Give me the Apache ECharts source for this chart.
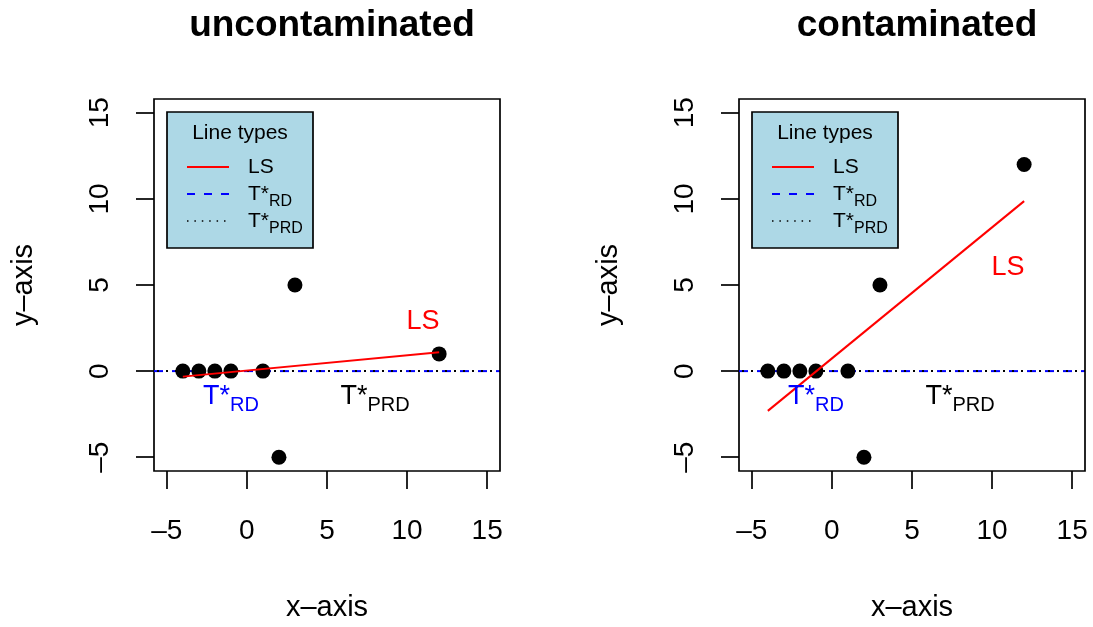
<!DOCTYPE html>
<html><head><meta charset="utf-8">
<script src="https://cdn.jsdelivr.net/npm/echarts@6/dist/echarts.min.js"></script>
<style>html,body{margin:0;padding:0;background:#fff}#c{width:1093px;height:627px}</style>
</head><body><div id="c"></div>
<script>
// ---- data ----
const xs = [-4, -3, -2, -1, 1, 2, 3, 12];
const yClean = [0, 0, 0, 0, 0, -5, 5, 1];
const yDirty = [0, 0, 0, 0, 0, -5, 5, 12];
const lsClean = [[-4, -0.32], [12, 1.1]];
const lsDirty = [[-4, -2.31], [12, 9.87]];
const refLine = [[-5.8, 0], [15.8, 0]];
const tickVals = [-5, 0, 5, 10, 15];
const titles = ['uncontaminated', 'contaminated'];
const lsLabelPos = [[11, 2.9], [11, 6.0]];
const rdLabelPos = [-1, -1.5];
const prdLabelPos = [8, -1.5];
const axisMin = -5.8, axisMax = 15.8;

// ---- layout ----
const FONT = 'Liberation Sans, Arial, Helvetica, sans-serif';
const panels = [{ left: 154, top: 99 }, { left: 739, top: 99 }];
const GW = 346, GH = 373;

function pts(ys) { return xs.map((x, i) => [x, ys[i]]); }

const grids = [], xAxes = [], yAxes = [], series = [], titleArr = [], graphics = [];

panels.forEach((p, k) => {
  grids.push({ left: p.left, top: p.top, width: GW, height: GH, show: true,
    borderColor: '#000', borderWidth: 1.7, backgroundColor: 'transparent' });
  const common = {
    type: 'value', min: axisMin, max: axisMax, gridIndex: k,
    axisLine: { show: false, onZero: false }, splitLine: { show: false },
    axisTick: { show: true, inside: false, length: 18, customValues: tickVals,
      lineStyle: { color: '#000', width: 1.7 } },
    nameLocation: 'middle',
    nameTextStyle: { fontSize: 29, color: '#000', fontFamily: FONT }
  };
  xAxes.push(Object.assign({}, common, {
    position: 'bottom',
    name: 'x\u2013axis', nameGap: 122,
    axisLabel: { customValues: tickVals, fontSize: 28, color: '#000', fontFamily: FONT, margin: 46,
      formatter: v => String(v).replace('-', '\u2013') }
  }));
  yAxes.push(Object.assign({}, common, {
    position: 'left',
    name: 'y\u2013axis', nameGap: 116,
    axisLabel: { customValues: tickVals, fontSize: 28, color: '#000', fontFamily: FONT, margin: 40, rotate: 90,
      formatter: v => String(v).replace('-', '\u2013') }
  }));
  titleArr.push({ text: titles[k], left: p.left + GW / 2, top: 2, textAlign: 'center',
    textStyle: { fontSize: 37, fontWeight: 'bold', color: '#000', fontFamily: FONT } });

  // reference lines (T*RD dashed blue, T*PRD dotted black)
  series.push({ type: 'line', xAxisIndex: k, yAxisIndex: k, data: refLine, symbol: 'none', silent: true,
    lineStyle: { color: '#0000ff', width: 2, type: [9, 9] }, z: 2 });
  series.push({ type: 'line', xAxisIndex: k, yAxisIndex: k, data: refLine, symbol: 'none', silent: true,
    lineStyle: { color: '#000', width: 2, type: [2, 7], dashOffset: -12 }, z: 2 });
  // points
  series.push({ type: 'scatter', xAxisIndex: k, yAxisIndex: k, data: pts(k === 0 ? yClean : yDirty),
    symbol: 'circle', symbolSize: 15, itemStyle: { color: '#000', opacity: 1 }, z: 3 });
  // LS line
  series.push({ type: 'line', xAxisIndex: k, yAxisIndex: k, data: k === 0 ? lsClean : lsDirty,
    symbol: 'none', lineStyle: { color: '#ff0000', width: 2 }, z: 4 });
  // text labels
  const sub = (main, s, col) => ({
    show: true, position: 'inside', formatter: '{m|' + main + '}{s|' + s + '}',
    rich: {
      m: { fontSize: 27, lineHeight: 28, color: col, fontFamily: FONT, verticalAlign: 'top' },
      s: { fontSize: 20, lineHeight: 20, color: col, fontFamily: FONT, verticalAlign: 'top', padding: [13, 0, 0, 0] }
    }
  });
  series.push({ type: 'scatter', xAxisIndex: k, yAxisIndex: k, symbolSize: 1, silent: true, z: 5,
    itemStyle: { color: 'rgba(0,0,0,0)', opacity: 1 },
    data: [
      { value: lsLabelPos[k], label: { show: true, position: 'inside', formatter: 'LS', fontSize: 27, color: '#ff0000', fontFamily: FONT } },
      { value: rdLabelPos, label: sub('T*', 'RD', '#0000ff') },
      { value: prdLabelPos, label: sub('T*', 'PRD', '#000') }
    ] });

  // legend box
  const bx = p.left + 13, by = p.top + 13;
  const lrich = {
    m: { fontSize: 21, lineHeight: 22, color: '#000', fontFamily: FONT, verticalAlign: 'top' },
    s: { fontSize: 16, lineHeight: 16, color: '#000', fontFamily: FONT, verticalAlign: 'top', padding: [10, 0, 0, 0] }
  };
  graphics.push(
    { type: 'rect', shape: { x: bx, y: by, width: 146, height: 136 }, z: 10,
      style: { fill: '#ADD8E6', stroke: '#000', lineWidth: 1.7 } },
    { type: 'text', x: bx + 73, y: by + 21, z: 11,
      style: { text: 'Line types', fontSize: 21, fontFamily: FONT, fill: '#000', align: 'center', verticalAlign: 'middle' } },
    { type: 'line', shape: { x1: bx + 20, y1: by + 55, x2: bx + 62, y2: by + 55 }, z: 11,
      style: { stroke: '#ff0000', lineWidth: 2 } },
    { type: 'line', shape: { x1: bx + 20, y1: by + 82, x2: bx + 62, y2: by + 82 }, z: 11,
      style: { stroke: '#0000ff', lineWidth: 2, lineDash: [8, 9] } },
    { type: 'line', shape: { x1: bx + 20, y1: by + 109, x2: bx + 62, y2: by + 109 }, z: 11,
      style: { stroke: '#000', lineWidth: 1.5, lineDash: [1.5, 5.9] } },
    { type: 'text', x: bx + 81, y: by + 55, z: 11,
      style: { text: 'LS', fontSize: 21, fontFamily: FONT, fill: '#000', verticalAlign: 'middle' } },
    { type: 'text', x: bx + 81, y: by + 83, z: 11,
      style: { text: '{m|T*}{s|RD}', rich: lrich, verticalAlign: 'middle' } },
    { type: 'text', x: bx + 81, y: by + 110, z: 11,
      style: { text: '{m|T*}{s|PRD}', rich: lrich, verticalAlign: 'middle' } }
  );
});

const chart = echarts.init(document.getElementById('c'));
chart.setOption({
  animation: false,
  backgroundColor: '#fff',
  title: titleArr,
  grid: grids,
  xAxis: xAxes,
  yAxis: yAxes,
  series: series,
  graphic: graphics
});
</script>
</body></html>
